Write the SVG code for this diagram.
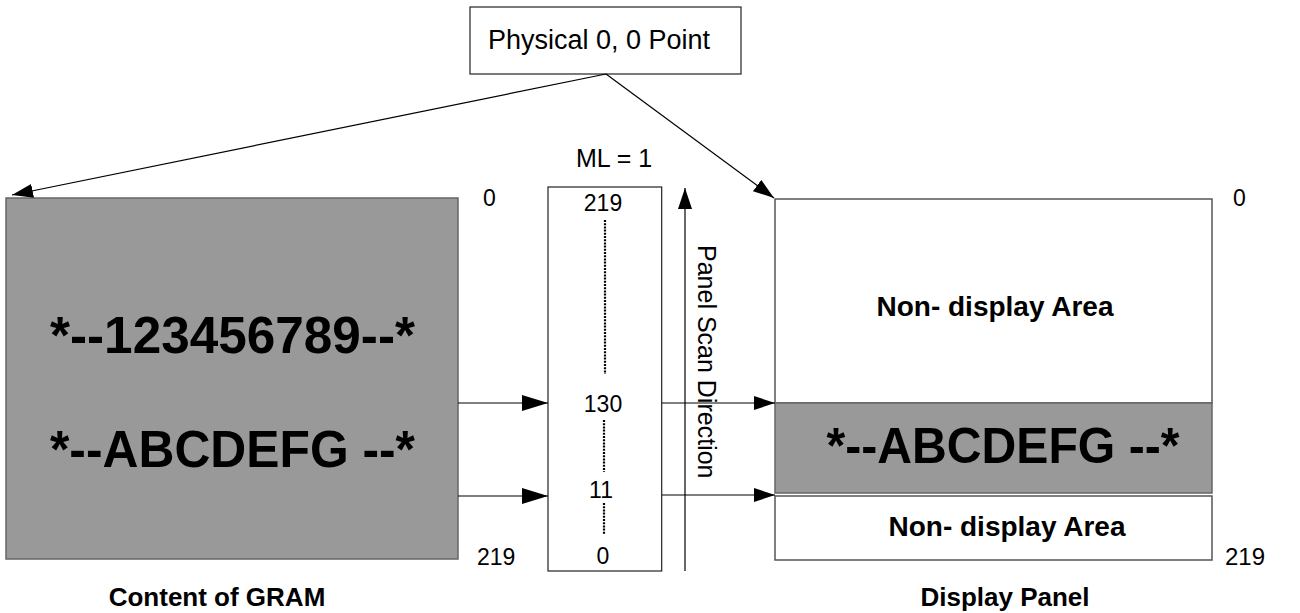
<svg xmlns="http://www.w3.org/2000/svg" width="1300" height="613" viewBox="0 0 1300 613">
<style>
text{font-family:"Liberation Sans",Arial,sans-serif;fill:#000}
.b{font-weight:bold}
.box{fill:#fff;stroke:#222;stroke-width:1.2}
.pan{fill:#fff;stroke:#555;stroke-width:1.5}
.gray{fill:#999;stroke:#666;stroke-width:1.5}
.con{stroke:#000;stroke-width:1.2;fill:none}
.dot{stroke:#000;stroke-width:2.2;stroke-dasharray:2 1.2;fill:none}
</style>
<defs>
<marker id="ah" markerUnits="userSpaceOnUse" markerWidth="21" markerHeight="14" refX="21" refY="7" orient="auto"><path d="M0,0 L21,7 L0,14 z" fill="#000"/></marker>
<marker id="ahL" markerUnits="userSpaceOnUse" markerWidth="26" markerHeight="16" refX="26" refY="8" orient="auto"><path d="M0,0 L26,8 L0,16 z" fill="#000"/></marker>
</defs>
<rect width="1300" height="613" fill="#fff"/>

<g id="physical">
<rect class="box" x="470" y="7" width="271" height="67"/>
<text x="488" y="49" font-size="27">Physical 0, 0 Point</text>
</g>

<g id="gram">
<rect class="gray" x="6" y="198" width="452" height="361"/>
<text class="b" x="232.5" y="353" font-size="51" text-anchor="middle" textLength="365" lengthAdjust="spacingAndGlyphs">*--123456789--*</text>
<text class="b" x="232.5" y="467" font-size="51" text-anchor="middle" textLength="365" lengthAdjust="spacingAndGlyphs">*--ABCDEFG --*</text>
<text x="483" y="206" font-size="23">0</text>
<text x="477" y="565" font-size="23">219</text>
<text class="b" x="217" y="606" font-size="26" text-anchor="middle">Content of GRAM</text>
</g>

<g id="ml">
<text x="576" y="167" font-size="25">ML = 1</text>
<rect class="box" x="548" y="187" width="113.7" height="384"/>
<text x="603" y="211" font-size="23" text-anchor="middle">219</text>
<line class="dot" x1="605" y1="220" x2="605" y2="374"/>
<text x="603" y="412" font-size="23" text-anchor="middle">130</text>
<line class="dot" x1="604" y1="420" x2="604" y2="472"/>
<text x="601" y="498" font-size="23" text-anchor="middle">11</text>
<line class="dot" x1="604" y1="503" x2="604" y2="535"/>
<text x="603" y="564" font-size="23" text-anchor="middle">0</text>
</g>

<g id="scan">
<text transform="translate(698,245) rotate(90)" font-size="25">Panel Scan Direction</text>
</g>

<g id="panel">
<rect class="pan" x="775" y="199" width="437" height="204"/>
<text class="b" x="995" y="316" font-size="28" text-anchor="middle">Non- display Area</text>
<rect class="gray" x="775" y="403" width="437" height="90"/>
<text class="b" x="1003" y="463" font-size="50" text-anchor="middle" textLength="353" lengthAdjust="spacingAndGlyphs">*--ABCDEFG --*</text>
<rect class="pan" x="775" y="496" width="437" height="64"/>
<text class="b" x="1007" y="536" font-size="28" text-anchor="middle">Non- display Area</text>
<text x="1233" y="206" font-size="23">0</text>
<text x="1225" y="565" font-size="24">219</text>
<text class="b" x="1005" y="606" font-size="26" text-anchor="middle">Display Panel</text>
</g>

<g id="connectors">
<line class="con" x1="606" y1="74" x2="12" y2="195" marker-end="url(#ah)"/>
<line class="con" x1="606" y1="74" x2="774" y2="198" marker-end="url(#ah)"/>
<line class="con" x1="685" y1="571" x2="685" y2="188" marker-end="url(#ah)"/>
<line class="con" x1="458" y1="403" x2="548" y2="403" marker-end="url(#ahL)"/>
<line class="con" x1="458" y1="496" x2="548" y2="496" marker-end="url(#ahL)"/>
<line class="con" x1="662" y1="403" x2="775" y2="403" marker-end="url(#ah)"/>
<line class="con" x1="662" y1="495" x2="775" y2="495" marker-end="url(#ah)"/>
</g>
</svg>
